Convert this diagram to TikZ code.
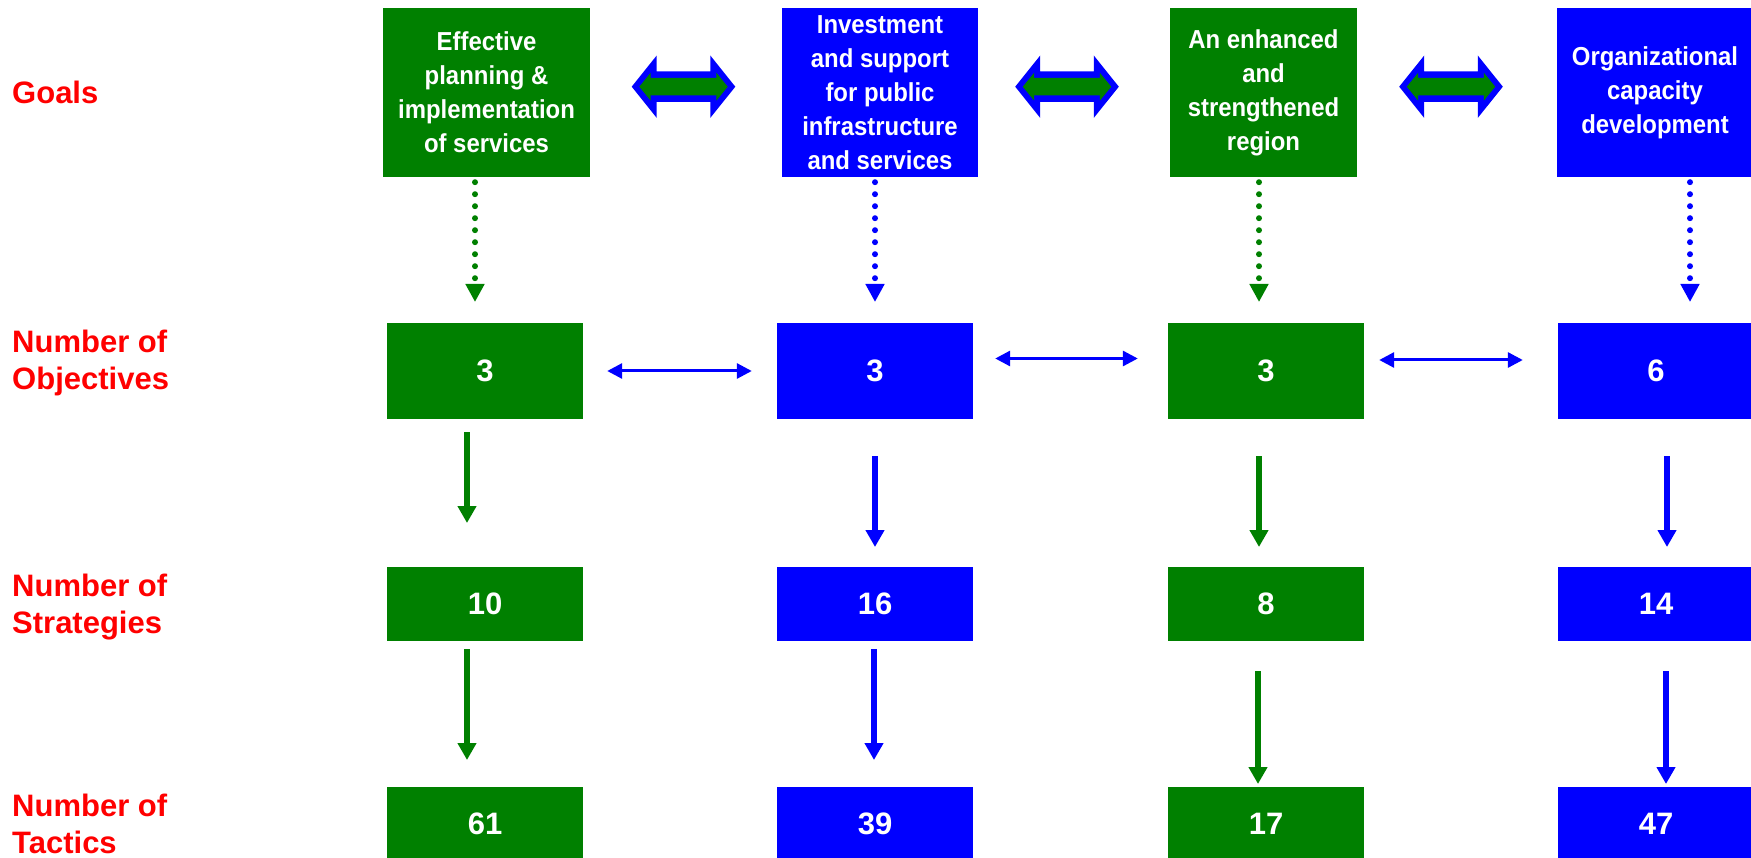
\documentclass[tikz,border=0pt]{standalone}
\usepackage{fontspec}
\setmainfont{Liberation Sans}
\newfontfamily\goalfont{Liberation Sans}[FakeStretch=0.92]
\usetikzlibrary{arrows.meta}
\definecolor{ggreen}{RGB}{0,128,0}
\definecolor{bblue}{RGB}{0,0,255}
\definecolor{rred}{RGB}{255,0,0}

\begin{document}
\begin{tikzpicture}[x=1pt,y=-1pt,
  box/.style={inner sep=0pt, text=white, align=center, minimum width=196pt},
  goal/.style={box, minimum height=169pt,
    font={\goalfont\bfseries\fontsize{26}{34}\selectfont}},
  count/.style={box, font={\bfseries\fontsize{31}{37}\selectfont}},
  gfill/.style={fill=ggreen},
  bfill/.style={fill=bblue},
  rowlabel/.style={anchor=base west, inner sep=0pt, text=rred,
    font={\bfseries\fontsize{31}{37}\selectfont}},
  dotarrow/.style={line width=6pt, dash pattern=on 0pt off 12pt, line cap=round,
    -{Triangle[width=18pt,length=18pt]}, shorten <=5pt},
  downarrow/.style={line width=6pt, -{Triangle[width=18pt,length=17pt]}},
  linkarrow/.style={bblue, line width=3pt,
    {Triangle[width=15pt,length=15pt]}-{Triangle[width=15pt,length=15pt]}},
  bigdbl/.pic={
    % blue outline shape
    \fill[bblue]
      (-51.8,0) -- (-26.8,31.2) -- (-26.8,15.3) -- (26.8,15.3) -- (26.8,31.2)
      -- (51.8,0) -- (26.8,-31.2) -- (26.8,-15.3) -- (-26.8,-15.3)
      -- (-26.8,-31.2) -- cycle;
    % green core
    \fill[ggreen]
      (-44.2,0) -- (-32.8,14) -- (-32.8,8.7) -- (32.8,8.7) -- (32.8,14)
      -- (44.2,0) -- (32.8,-14) -- (32.8,-8.7) -- (-32.8,-8.7)
      -- (-32.8,-14) -- cycle;
  }
]
% canvas
\fill[white] (0,0) rectangle (1751,858);
\useasboundingbox (0,0) rectangle (1751,858);

% row labels
\node[rowlabel] (lg) at (12,104) {Goals};
\node[rowlabel] (lo) at (12,390) {\begin{tabular}[b]{@{}l@{}}Number of\\Objectives\end{tabular}};
\node[rowlabel] (ls) at (12,633) {\begin{tabular}[b]{@{}l@{}}Number of\\Strategies\end{tabular}};
\node[rowlabel] (lt) at (12,853) {\begin{tabular}[b]{@{}l@{}}Number of\\Tactics\end{tabular}};

% goals
\node[goal, gfill, minimum width=207pt] (g1) at (486.5,92.5) {Effective\\planning \&\\implementation\\of services};
\node[goal, bfill] (g2) at (880,92.5) {Investment\\and support\\for public\\infrastructure\\and services};
\node[goal, gfill, minimum width=187pt] (g3) at (1263.5,92.5) {An enhanced\\and\\strengthened\\region};
\node[goal, bfill] (g4) at (1655,92.5) {Organizational\\capacity\\development};

\pic (d1) at (683.5,86.7) {bigdbl};
\pic (d2) at (1067,86.7) {bigdbl};
\pic (d3) at (1451,86.7) {bigdbl};

% objectives
\node[count, gfill, minimum height=96pt] (o1) at (485,371) {3};
\node[count, bfill, minimum height=96pt] (o2) at (875,371) {3};
\node[count, gfill, minimum height=96pt] (o3) at (1266,371) {3};
\node[count, bfill, minimum height=96pt] (o4) at (1656,371) {6};

% strategies
\node[count, gfill, minimum height=74pt] (s1) at (485,604) {10};
\node[count, bfill, minimum height=74pt] (s2) at (875,604) {16};
\node[count, gfill, minimum height=74pt] (s3) at (1266,604) {8};
\node[count, bfill, minimum height=74pt] (s4) at (1656,604) {14};

% tactics
\node[count, gfill, minimum height=74pt] (tc1) at (485,824) {61};
\node[count, bfill, minimum height=74pt] (tc2) at (875,824) {39};
\node[count, gfill, minimum height=74pt] (tc3) at (1266,824) {17};
\node[count, bfill, minimum height=74pt] (tc4) at (1656,824) {47};

% goal -> objectives (dotted)
\coordinate (t1) at (475,302);
\coordinate (t2) at (875,302);
\coordinate (t3) at (1259,302);
\coordinate (t4) at (1690,302);
\draw[dotarrow, ggreen] (g1.south -| t1) -- (t1);
\draw[dotarrow, bblue]  (g2.south -| t2) -- (t2);
\draw[dotarrow, ggreen] (g3.south -| t3) -- (t3);
\draw[dotarrow, bblue]  (g4.south -| t4) -- (t4);

% links between objectives
\draw[linkarrow, shorten <=24pt, shorten >=25pt] (o1.east) -- (o2.west);
\draw[linkarrow, shorten <=22pt, shorten >=30pt] ([yshift=12.5pt]o2.east) -- ([yshift=12.5pt]o3.west);
\draw[linkarrow, shorten <=15pt, shorten >=35pt] ([yshift=11pt]o3.east) -- ([yshift=11pt]o4.west);

% objectives -> strategies
\coordinate (a1) at (467,523);
\coordinate (a2) at (875,547);
\coordinate (a3) at (1259,547);
\coordinate (a4) at (1667,547);
\draw[downarrow, ggreen, shorten <=13pt] (o1.south -| a1) -- (a1);
\draw[downarrow, bblue,  shorten <=37pt] (o2.south -| a2) -- (a2);
\draw[downarrow, ggreen, shorten <=37pt] (o3.south -| a3) -- (a3);
\draw[downarrow, bblue,  shorten <=37pt] (o4.south -| a4) -- (a4);

% strategies -> tactics
\coordinate (b1) at (467,760);
\coordinate (b2) at (874,760);
\coordinate (b3) at (1258,784);
\coordinate (b4) at (1666,784);
\draw[downarrow, ggreen, shorten <=8pt]  (s1.south -| b1) -- (b1);
\draw[downarrow, bblue,  shorten <=8pt]  (s2.south -| b2) -- (b2);
\draw[downarrow, ggreen, shorten <=30pt] (s3.south -| b3) -- (b3);
\draw[downarrow, bblue,  shorten <=30pt] (s4.south -| b4) -- (b4);
\end{tikzpicture}
\end{document}
